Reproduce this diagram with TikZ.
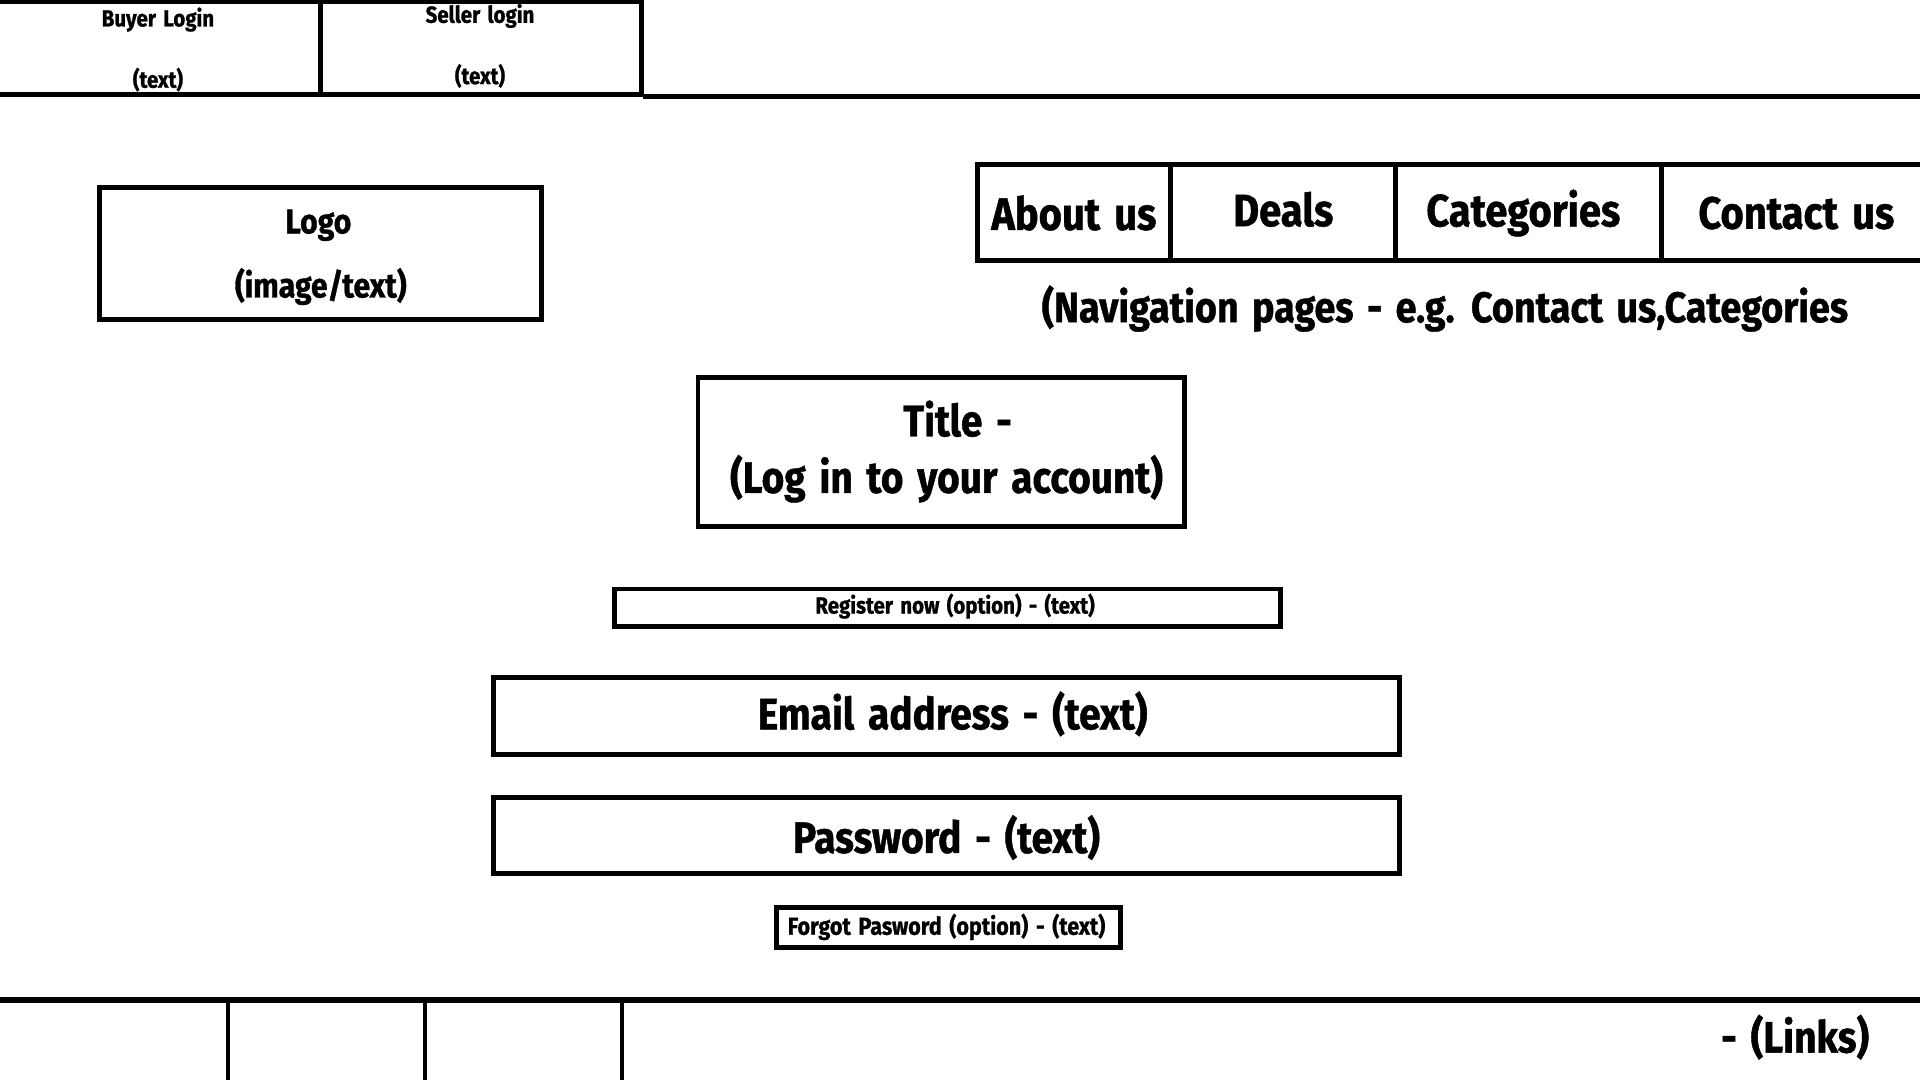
\documentclass[tikz,border=0pt]{standalone}
\usepackage{fontspec}
\setmainfont{Fira Sans}[FakeStretch=0.88,UprightFont={* Bold},WordSpace=1.5,FakeBold=1]
\begin{document}
\begin{tikzpicture}[x=1pt,y=-1pt,
  box/.style={draw,line width=4pt,line join=miter},
  wire/.style={line width=4pt},
  lbl/.style={inner sep=0pt,anchor=center,font=\fontsize{#1}{#1}\selectfont},
  lbl/.default=36]
\useasboundingbox (0,0) rectangle (1568,882);
% top bar
\draw[wire] (0,1) -- (525,1);
\draw[wire] (0,77) -- (525,77);
\draw[wire] (262,0) -- (262,77);
\draw[wire] (524,0) -- (524,79);
\draw[wire] (525,79) -- (1568,79);
\node[lbl=19] (buyer) at (129,16) {Buyer Login};
\node[lbl=19] (buyert) at (129,65) {(text)};
\node[lbl=19] (seller) at (392,13) {Seller login};
\node[lbl=19] (sellert) at (392,62) {(text)};
% logo
\draw[box] (81,153) rectangle (442,261);
\node[lbl=28] (logo) at (260,184) {Logo};
\node[lbl=28] (logot) at (262,234) {(image/text)};
% navigation
\draw[box] (798,134) -- (1568,134);
\draw[box] (798,213) -- (1568,213);
\draw[box] (798,132) -- (798,215);
\draw[box] (956,134) -- (956,213);
\draw[box] (1140,134) -- (1140,213);
\draw[box] (1357,134) -- (1357,213);
\node[lbl=37] (about) at (877,174) {About us};
\node[lbl=37] (deals) at (1048,171) {Deals};
\node[lbl=37] (cats) at (1244,174) {Categories};
\node[lbl=37] (contact) at (1467,174) {Contact us};
\node[lbl=35] (navnote) at (1180,252) {(Navigation pages - e.g. Contact us,Categories};
% title
\draw[box] (570,308) rectangle (967,430);
\node[lbl=36] (title) at (782,342) {Title -};
\node[lbl=36] (titlet) at (773,391) {(Log in to your account)};
% register
\draw[box] (502,481) rectangle (1046,512);
\node[lbl=19] (register) at (780,495) {Register now (option) - (text)};
% email
\draw[box] (403,553) rectangle (1143,616);
\node[lbl=36] (email) at (778,583) {Email address - (text)};
% password
\draw[box] (403,651) rectangle (1143,713);
\node[lbl=36] (password) at (773,684) {Password - (text)};
% forgot
\draw[box] (634,741) rectangle (915,774);
\node[lbl=20] (forgot) at (773,757) {Forgot Pasword (option) - (text)};
% footer
\draw[line width=5pt] (0,817) -- (1568,817);
\draw[line width=3.5pt] (186,817) -- (186,882);
\draw[line width=3.5pt] (347,817) -- (347,882);
\draw[line width=3.5pt] (508,817) -- (508,882);
\node[lbl=36] (links) at (1466,847) {- (Links)};
\end{tikzpicture}
\end{document}
